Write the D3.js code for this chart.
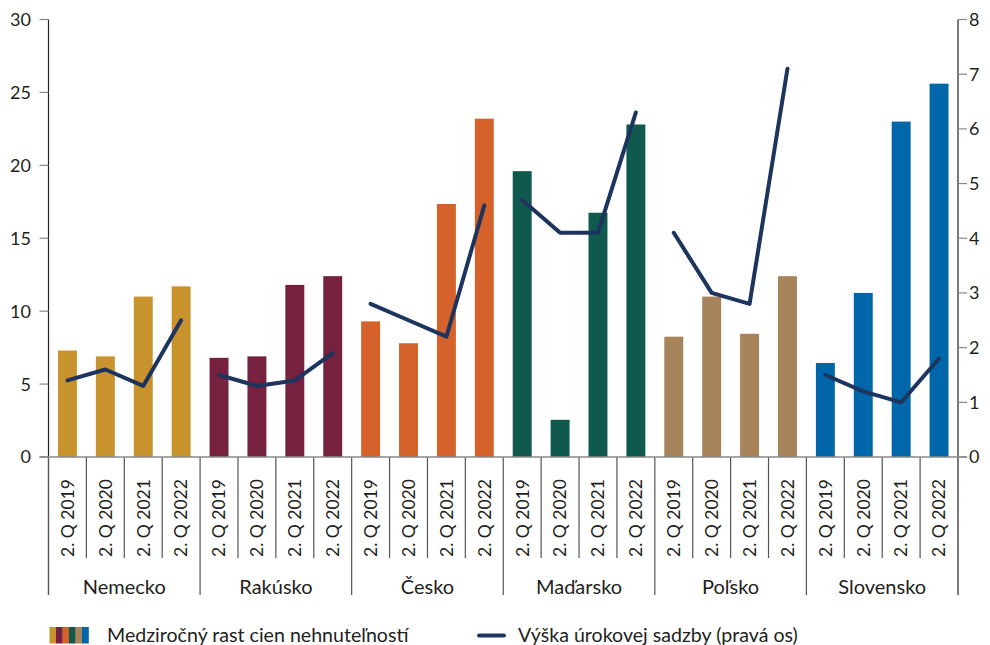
<!DOCTYPE html>
<meta charset="utf-8">
<script src="https://d3js.org/d3.v7.min.js"></script>
<style>
  body { margin: 0; background: #fff; }
  text { font-family: Lato, "Open Sans", sans-serif; fill: #231f20; }
</style>
<div id="chart"></div>
<script>

// data
var countries = ["Nemecko", "Rakúsko", "Česko", "Maďarsko", "Poľsko", "Slovensko"];
var periods = ["2. Q 2019", "2. Q 2020", "2. Q 2021", "2. Q 2022"];
var colors = ["#c8932c", "#76213f", "#d4622a", "#10594e", "#a7845a", "#0066aa"];

// year-on-year property price growth (left axis)
var priceGrowth = [
  [7.3, 6.9, 11.0, 11.7],
  [6.8, 6.9, 11.8, 12.4],
  [9.3, 7.8, 17.35, 23.2],
  [19.6, 2.55, 16.75, 22.8],
  [8.25, 11.0, 8.45, 12.4],
  [6.45, 11.25, 23.0, 25.6]
];
// interest rate (right axis)
var interestRate = [
  [1.4, 1.6, 1.3, 2.5],
  [1.5, 1.3, 1.4, 1.9],
  [2.8, 2.5, 2.2, 4.6],
  [4.7, 4.1, 4.1, 6.3],
  [4.1, 3.0, 2.8, 7.1],
  [1.5, 1.2, 1.0, 1.8]
];
var leftTicks = [0, 5, 10, 15, 20, 25, 30];
var rightTicks = [0, 1, 2, 3, 4, 5, 6, 7, 8];
var legendBars = "Medziročný rast cien nehnuteľností";
var legendLine = "Výška úrokovej sadzby (pravá os)";

var W = 990, H = 645;
var mLeft = 48.5, mRight = 958, mTop = 19.5, mBottom = 457;

var svg = d3.select("#chart").append("svg")
  .attr("width", W).attr("height", H);

// flat list of categories
var cats = [];
countries.forEach(function(c, i) {
  periods.forEach(function(p, j) {
    cats.push({key: c + "|" + p, country: c, ci: i, period: p, value: priceGrowth[i][j], rate: interestRate[i][j]});
  });
});

var x = d3.scaleBand()
  .domain(cats.map(function(d) { return d.key; }))
  .range([mLeft, mRight])
  .paddingInner(0.5)
  .paddingOuter(0.25);

var yL = d3.scaleLinear().domain([0, 30]).range([mBottom, mTop]);
var yR = d3.scaleLinear().domain([0, 8]).range([mBottom, mTop]);

var step = x.step();
function edge(d) { return x(d.key) - step * x.paddingInner() / 2; }

// left axis
svg.append("line")
  .attr("x1", mLeft).attr("x2", mLeft).attr("y1", mTop).attr("y2", 595)
  .attr("stroke", "#231f20").attr("stroke-width", 1.2);
svg.append("g").selectAll("line").data(leftTicks).enter().append("line")
  .attr("x1", 39.5).attr("x2", mLeft).attr("y1", yL).attr("y2", yL)
  .attr("stroke", "#888").attr("stroke-width", 1.2);
svg.append("g").selectAll("text").data(leftTicks).enter().append("text")
  .attr("x", 31).attr("y", yL).attr("dy", "0.36em")
  .attr("text-anchor", "end").style("font-size", "18px")
  .text(function(d) { return d; });

// right axis
svg.append("line")
  .attr("x1", mRight).attr("x2", mRight).attr("y1", mTop).attr("y2", 595)
  .attr("stroke", "#231f20").attr("stroke-width", 1.2);
svg.append("g").selectAll("line").data(rightTicks).enter().append("line")
  .attr("x1", mRight).attr("x2", 967).attr("y1", yR).attr("y2", yR)
  .attr("stroke", "#888").attr("stroke-width", 1.2);
svg.append("g").selectAll("text").data(rightTicks).enter().append("text")
  .attr("x", 969).attr("y", yR).attr("dy", "0.36em")
  .attr("text-anchor", "start").style("font-size", "18px")
  .text(function(d) { return d; });

// category separators
svg.append("g").selectAll("line").data(cats).enter().append("line")
  .attr("x1", edge).attr("x2", edge)
  .attr("y1", mBottom)
  .attr("y2", function(d, i) { return i % 4 === 0 ? 595 : 558; })
  .attr("stroke", "#555").attr("stroke-width", 1.2);

// bars
svg.append("g").selectAll("rect").data(cats).enter().append("rect")
  .attr("x", function(d) { return x(d.key); })
  .attr("width", x.bandwidth())
  .attr("y", function(d) { return yL(d.value); })
  .attr("height", function(d) { return yL(0) - yL(d.value); })
  .attr("fill", function(d) { return colors[d.ci]; });

// zero line
svg.append("line")
  .attr("x1", 39.5).attr("x2", 967).attr("y1", mBottom).attr("y2", mBottom)
  .attr("stroke", "#888").attr("stroke-width", 1.5);

// interest rate lines, one per country
var line = d3.line()
  .x(function(d) { return x(d.key) + x.bandwidth() / 2; })
  .y(function(d) { return yR(d.rate); });

svg.append("g").selectAll("path").data(countries).enter().append("path")
  .attr("d", function(c) { return line(cats.filter(function(d) { return d.country === c; })); })
  .attr("fill", "none")
  .attr("stroke", "#1c345e")
  .attr("stroke-width", 4)
  .attr("stroke-linecap", "round")
  .attr("stroke-linejoin", "round");

// period labels
svg.append("g").selectAll("text").data(cats).enter().append("text")
  .attr("transform", function(d) {
    return "translate(" + (x(d.key) + x.bandwidth() / 2) + ",557) rotate(-90)";
  })
  .attr("dy", "0.36em")
  .style("font-size", "17.5px")
  .text(function(d) { return d.period; });

// country labels
svg.append("g").selectAll("text").data(countries).enter().append("text")
  .attr("x", function(c, i) {
    var first = cats[i * 4], last = cats[i * 4 + 3];
    return (edge(first) + edge(last) + step) / 2;
  })
  .attr("y", 594)
  .attr("text-anchor", "middle")
  .style("font-size", "20px")
  .text(function(c) { return c; });

// legend
var lg = svg.append("g");
var sw = d3.scaleBand().domain(d3.range(colors.length)).range([49.5, 88.5]);
lg.selectAll("rect").data(colors).enter().append("rect")
  .attr("x", function(d, i) { return sw(i); })
  .attr("width", sw.bandwidth() + 0.3)
  .attr("y", 627).attr("height", 16.5)
  .attr("fill", function(d) { return d; });
lg.append("text").attr("x", 107).attr("y", 641.5)
  .style("font-size", "19.6px").text(legendBars);
lg.append("line")
  .attr("x1", 479).attr("x2", 504).attr("y1", 635.5).attr("y2", 635.5)
  .attr("stroke", "#1c345e").attr("stroke-width", 4).attr("stroke-linecap", "round");
lg.append("text").attr("x", 518).attr("y", 641.5)
  .style("font-size", "19.6px").text(legendLine);

</script>
